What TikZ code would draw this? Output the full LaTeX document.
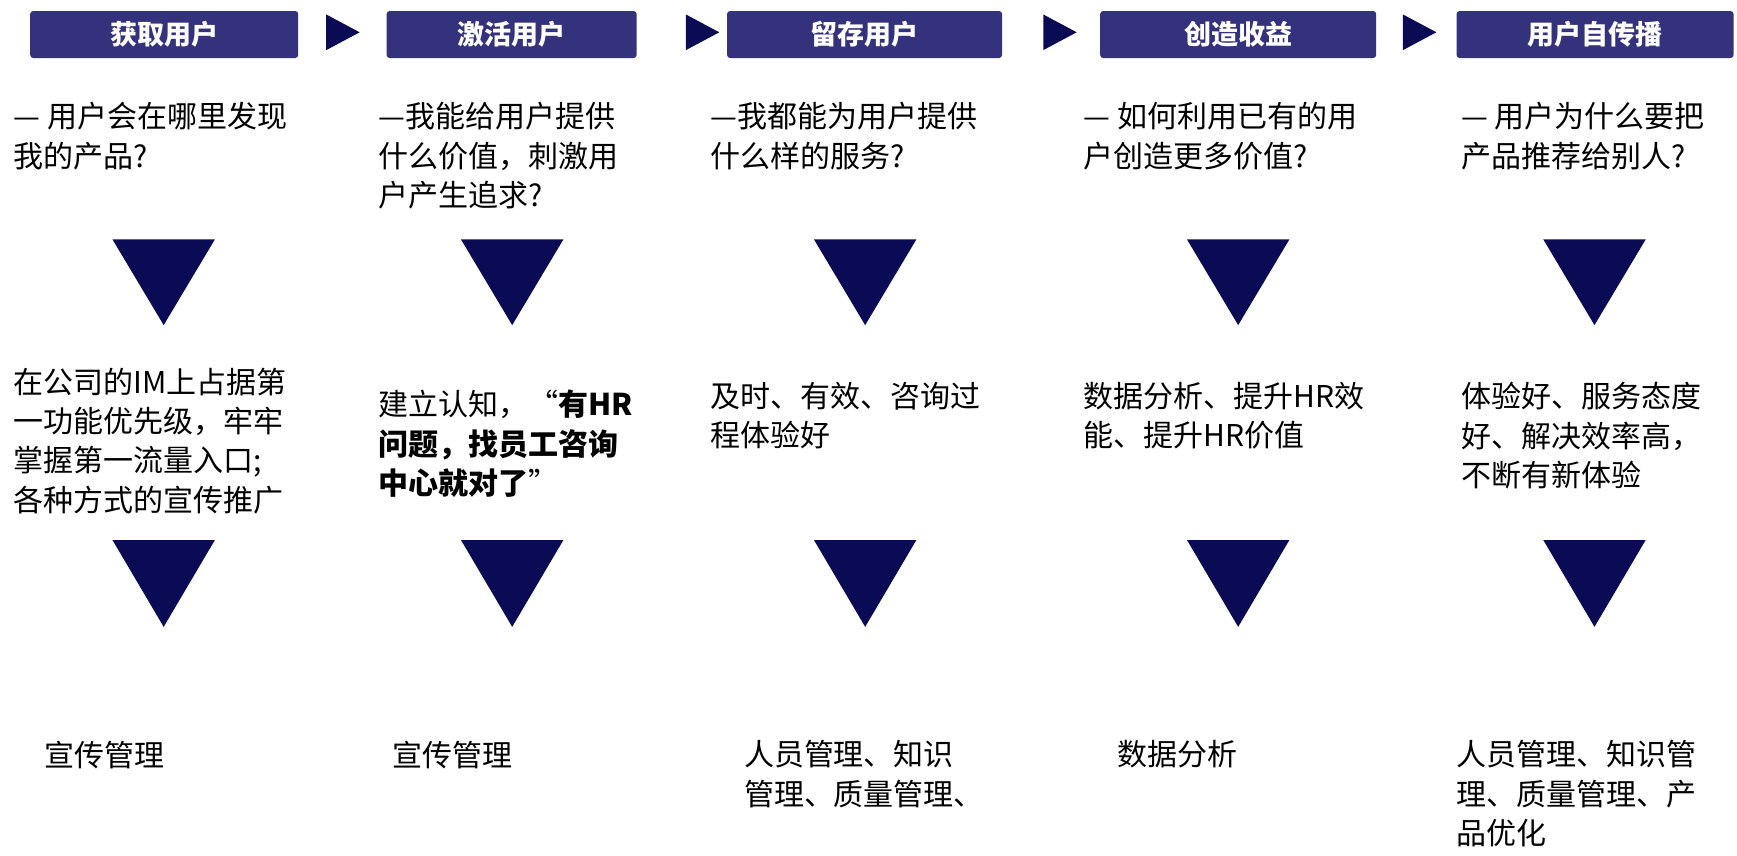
\documentclass[tikz,border=0pt]{standalone}
\usepackage{fontspec}
\setmainfont{Noto Sans CJK SC}
\definecolor{headblue}{HTML}{34317D}
\definecolor{arrownavy}{HTML}{0A0A55}
\tikzset{
  headbox/.style={fill=headblue, rounded corners=3pt, text=white, font=\fontsize{27}{32}\selectfont\bfseries, minimum height=47pt, inner sep=0pt},
  bodytext/.style={anchor=north west, inner sep=0pt, align=left, font=\fontsize{30}{39.5}\selectfont},
  steptri/.style={fill=arrownavy},
}
\begin{document}
\begin{tikzpicture}[x=1.1135pt, y=-1.1135pt]
\useasboundingbox (0,0) rectangle (1560,768);

% Header boxes
\node[headbox, minimum width=268pt] (h1) at (147.5,31) {获取用户};
\node[headbox, minimum width=250pt] (h2) at (459.5,31) {激活用户};
\node[headbox, minimum width=275pt] (h3) at (776.5,31) {留存用户};
\node[headbox, minimum width=276pt] (h4) at (1112,31) {创造收益};
\node[headbox, minimum width=277pt] (h5) at (1432.5,31) {用户自传播};

% Small arrows between the headers
\foreach \ax in {293,616,937,1260}
  \fill[steptri] (\ax,13) -- (\ax+30,29) -- (\ax,45) -- cycle;

% Questions
\node[bodytext] (q1) at (12,92) {— 用户会在哪里发现\\我的产品?};
\node[bodytext] (q2) at (340,92) {—我能给用户提供\\什么价值，刺激用\\户产生追求?};
\node[bodytext] (q3) at (638,92) {—我都能为用户提供\\什么样的服务?};
\node[bodytext] (q4) at (973,92) {— 如何利用已有的用\\户创造更多价值?};
\node[bodytext] (q5) at (1312,92) {— 用户为什么要把\\产品推荐给别人?};

% Down triangles
\foreach \cx in {147,460,777,1112,1432} {
  \fill[steptri] (\cx-46,215) -- (\cx+46,215) -- (\cx,292) -- cycle;
  \fill[steptri] (\cx-46,485) -- (\cx+46,485) -- (\cx,563) -- cycle;
}

% Answers
\node[bodytext] (a1) at (12,330) {在公司的IM上占据第\\一功能优先级，牢牢\\掌握第一流量入口;\\各种方式的宣传推广};
\node[bodytext] (a2) at (340,350) {建立认知，“\textbf{有HR}\\\textbf{问题，找员工咨询}\\\textbf{中心就对了}”};
\node[bodytext] (a3) at (638,343) {及时、有效、咨询过\\程体验好};
\node[bodytext] (a4) at (973,343) {数据分析、提升HR效\\能、提升HR价值};
\node[bodytext] (a5) at (1312,343) {体验好、服务态度\\好、解决效率高，\\不断有新体验};

% Tools
\node[bodytext] (t1) at (40,665) {宣传管理};
\node[bodytext] (t2) at (352,665) {宣传管理};
\node[bodytext] (t3) at (668,665) {人员管理、知识\\管理、质量管理、};
\node[bodytext] (t4) at (1003,665) {数据分析};
\node[bodytext] (t5) at (1308,665) {人员管理、知识管\\理、质量管理、产\\品优化};
\end{tikzpicture}
\end{document}
